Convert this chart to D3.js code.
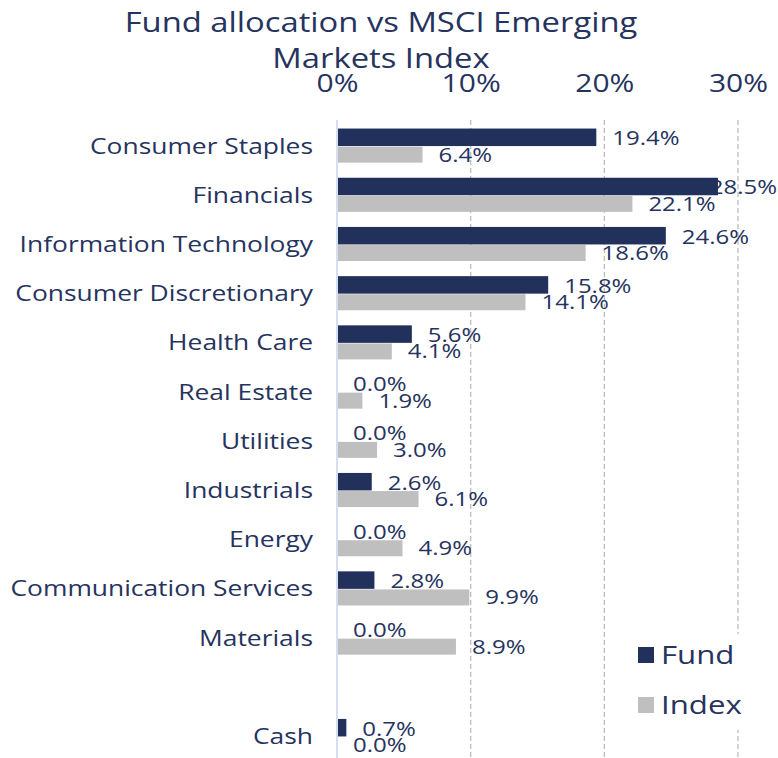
<!DOCTYPE html>
<html><head><meta charset="utf-8">
<script src="https://cdn.jsdelivr.net/npm/d3@7"></script>
<style>body{margin:0;background:#fff}svg{display:block}text{font-family:"Open Sans",sans-serif;fill:#26335e}</style>
</head><body><svg id="c" width="778" height="758"></svg>
<script>
const categories = ["Consumer Staples","Financials","Information Technology","Consumer Discretionary","Health Care","Real Estate","Utilities","Industrials","Energy","Communication Services","Materials","","Cash"];
const fund  = [19.4,28.5,24.6,15.8,5.6,0.0,0.0,2.6,0.0,2.8,0.0,null,0.7];
const index = [6.4,22.1,18.6,14.1,4.1,1.9,3.0,6.1,4.9,9.9,8.9,null,0.0];
const ticks = [0,10,20,30];
const seriesNames = ["Fund","Index"];
const colors = ["#22305c","#bfbfbf"];
const title = ["Fund allocation vs MSCI Emerging","Markets Index"];

const W=778,H=758, SX=1.17;
const svg=d3.select("#c");
const x=d3.scaleLinear().domain([0,30]).range([337,738]);
const y=d3.scaleBand().domain(categories.map((c,i)=>i)).range([121,760.6]);
const bandH=y.bandwidth();
const fundH=17.5, idxH=16, gap=0.6;
const off=(bandH-(fundH+idxH+gap))/2;
function place(sel,px,py,s){
  sel.attr("x",0).attr("y",0).attr("transform",(d,i)=>`translate(${px(d,i)},${py(d,i)}) scale(${s||SX},1)`);
  return sel;
}

// title
place(svg.append("g").selectAll("text").data(title).join("text")
  .attr("text-anchor","middle").style("font-size","28px").text(d=>d),
  ()=>381,(d,i)=>32+i*36);

// gridlines
svg.append("g").selectAll("line").data(ticks.filter(t=>t>0)).join("line")
  .attr("x1",d=>x(d)).attr("x2",d=>x(d)).attr("y1",120).attr("y2",H)
  .attr("stroke","#bdbdbd").attr("stroke-width",1.3).attr("stroke-dasharray","5,3");

// top axis
const ax=svg.append("g").attr("transform","translate(0,92)")
  .call(d3.axisTop(x).tickValues(ticks).tickFormat(d=>d+"%").tickSize(0).tickPadding(0));
ax.select(".domain").remove();
ax.selectAll("text").style("font-size","25px").attr("dy",0).attr("fill","#26335e")
  .attr("transform",`scale(${SX+0.03},1)`);

// value labels first (bars drawn over them)
const lab=svg.append("g");
function addLabels(vals,yOff,h,dy){
  const d=vals.map((v,i)=>({v,i})).filter(o=>o.v!==null);
  lab.selectAll(null).data(d).join("text")
    .attr("dy","0.36em").style("font-size","20.5px").text(o=>o.v.toFixed(1)+"%")
    .each(function(o){
      const w=this.getComputedTextLength()*SX;
      let px=x(o.v)+16; if(px+w>W-1) px=W-1-w;
      d3.select(this).attr("x",0).attr("y",0)
        .attr("transform",`translate(${px},${y(o.i)+off+yOff+h/2+dy})scale(${SX},1)`);
    });
}
addLabels(fund,0,fundH,0.5);
addLabels(index,fundH+gap,idxH,-0.5);

// bars
const bars=svg.append("g");
bars.selectAll(null).data(fund.map((v,i)=>({v,i})).filter(o=>o.v)).join("rect")
  .attr("x",x(0)).attr("y",o=>y(o.i)+off).attr("width",o=>x(o.v)-x(0)).attr("height",fundH).attr("fill",colors[0]);
bars.selectAll(null).data(index.map((v,i)=>({v,i})).filter(o=>o.v)).join("rect")
  .attr("x",x(0)).attr("y",o=>y(o.i)+off+fundH+gap).attr("width",o=>x(o.v)-x(0)).attr("height",idxH).attr("fill",colors[1]);

// zero axis
svg.append("line").attr("x1",x(0)).attr("x2",x(0)).attr("y1",120).attr("y2",H)
  .attr("stroke","#d6dff0").attr("stroke-width",2);

// category labels
place(svg.append("g").selectAll("text").data(categories).join("text")
  .attr("dy","0.36em").attr("text-anchor","end").style("font-size","22px").text(d=>d),
  ()=>313,(d,i)=>y(i)+bandH/2,1.2);

// legend
const lg=svg.append("g");
lg.append("rect").attr("x",612).attr("y",634).attr("width",140).attr("height",96).attr("fill","#fff");
seriesNames.forEach((n,i)=>{
  lg.append("rect").attr("x",638).attr("y",647+i*50).attr("width",16).attr("height",16).attr("fill",colors[i]);
  place(lg.append("text").datum(n).attr("dy","0.36em").style("font-size","26px").text(n),
    ()=>661,()=>655+i*50,1.2);
});
</script></body></html>
